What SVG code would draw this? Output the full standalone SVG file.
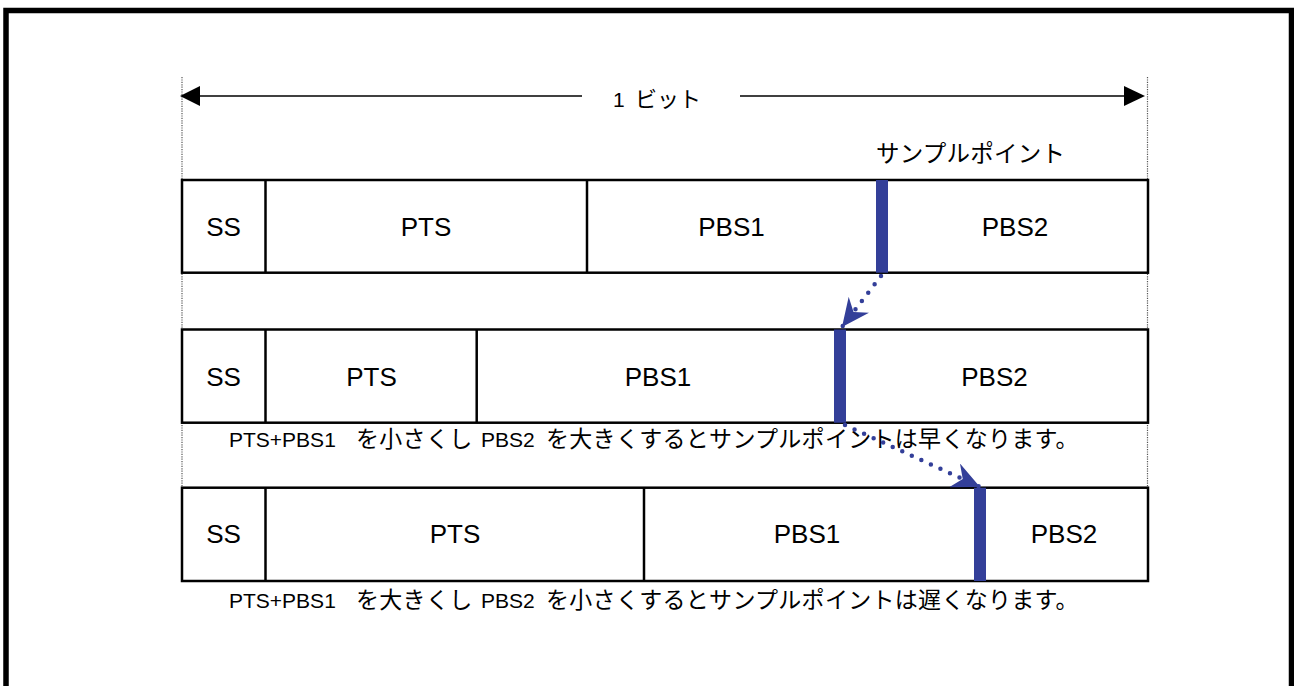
<svg xmlns="http://www.w3.org/2000/svg" width="1294" height="686" viewBox="0 0 1294 686">
<style>
text{font-family:"Liberation Sans","Noto Sans CJK JP",sans-serif;fill:#000}
.lbl{font-size:26px;text-anchor:middle}
.cap{font-size:21px}
.cj{font-size:23px;letter-spacing:0.3px}
.box{fill:#fff;stroke:#000;stroke-width:2.5}
.div{stroke:#000;stroke-width:2.5}
.bar{fill:#333f99}
.guide{stroke:#555;stroke-width:1.2;stroke-dasharray:1.2 1.2;fill:none}
.dots{fill:none;stroke:#333f99;stroke-width:4.5;stroke-linecap:round;stroke-dasharray:0 10.5}
</style>
<defs>
<marker id="stealth" markerUnits="userSpaceOnUse" viewBox="0 0 28 26" refX="28" refY="13" markerWidth="28" markerHeight="26" orient="auto">
<path d="M0,0 L28,13 L0,26 L9,13 Z" fill="#333f99"/>
</marker>
</defs>
<rect x="6" y="10.5" width="1285.5" height="720" fill="#fff" stroke="#000" stroke-width="5.5"/>
<g id="guides">
<line class="guide" x1="182" y1="77" x2="182" y2="488"/>
<line class="guide" x1="1147.5" y1="77" x2="1147.5" y2="488"/>
</g>
<g id="bit-span">
<line x1="200" y1="96" x2="582" y2="96" stroke="#000" stroke-width="1.6"/>
<line x1="740" y1="96" x2="1124" y2="96" stroke="#000" stroke-width="1.6"/>
<path d="M180,96 L200,86 L200,106 Z" fill="#000"/>
<path d="M1145,96 L1124,86 L1124,106 Z" fill="#000"/>
<text x="613" y="107" style="font-size:21px">1<tspan x="635" style="font-size:22px">ビット</tspan></text>
</g>
<g id="sample-label">
<text x="876" y="162" style="font-size:23.5px;letter-spacing:0.25px">サンプルポイント</text>
</g>
<g id="row1">
<rect class="box" x="182" y="180" width="966" height="92.7"/>
<line class="div" x1="265.5" y1="180" x2="265.5" y2="272.7"/>
<line class="div" x1="587" y1="180" x2="587" y2="272.7"/>
<rect class="bar" x="876" y="180" width="12" height="92.7"/>
<text class="lbl" x="223.5" y="236">SS</text>
<text class="lbl" x="426" y="236">PTS</text>
<text class="lbl" x="731.5" y="236">PBS1</text>
<text class="lbl" x="1015" y="236">PBS2</text>
</g>
<g id="row2">
<rect class="box" x="182" y="329.5" width="966" height="93.2"/>
<line class="div" x1="265.5" y1="329.5" x2="265.5" y2="422.7"/>
<line class="div" x1="476.7" y1="329.5" x2="476.7" y2="422.7"/>
<rect class="bar" x="834" y="329.5" width="12" height="93.2"/>
<text class="lbl" x="223.5" y="386">SS</text>
<text class="lbl" x="371.5" y="386">PTS</text>
<text class="lbl" x="658" y="386">PBS1</text>
<text class="lbl" x="994.5" y="386">PBS2</text>
</g>
<g id="caption1">
<text class="cap" x="229" y="447">PTS+PBS1<tspan class="cj" x="356">を小さくし</tspan><tspan x="481">PBS2</tspan><tspan class="cj" x="546">を大きくするとサンプルポイントは早くなります。</tspan></text>
</g>
<g id="row3">
<rect class="box" x="182" y="487.7" width="966" height="93.3"/>
<line class="div" x1="265.5" y1="487.7" x2="265.5" y2="581"/>
<line class="div" x1="644" y1="487.7" x2="644" y2="581"/>
<rect class="bar" x="974" y="487.7" width="12" height="93.3"/>
<text class="lbl" x="223.5" y="543">SS</text>
<text class="lbl" x="455" y="543">PTS</text>
<text class="lbl" x="807" y="543">PBS1</text>
<text class="lbl" x="1064" y="543">PBS2</text>
</g>
<g id="caption2">
<text class="cap" x="229" y="608">PTS+PBS1<tspan class="cj" x="356">を大きくし</tspan><tspan x="481">PBS2</tspan><tspan class="cj" x="546">を小さくするとサンプルポイントは遅くなります。</tspan></text>
</g>
<g id="connectors">
<path class="dots" d="M881,276 L842,327" marker-end="url(#stealth)"/>
<path class="dots" d="M845,425 L980,487" marker-end="url(#stealth)"/>
</g>
</svg>
